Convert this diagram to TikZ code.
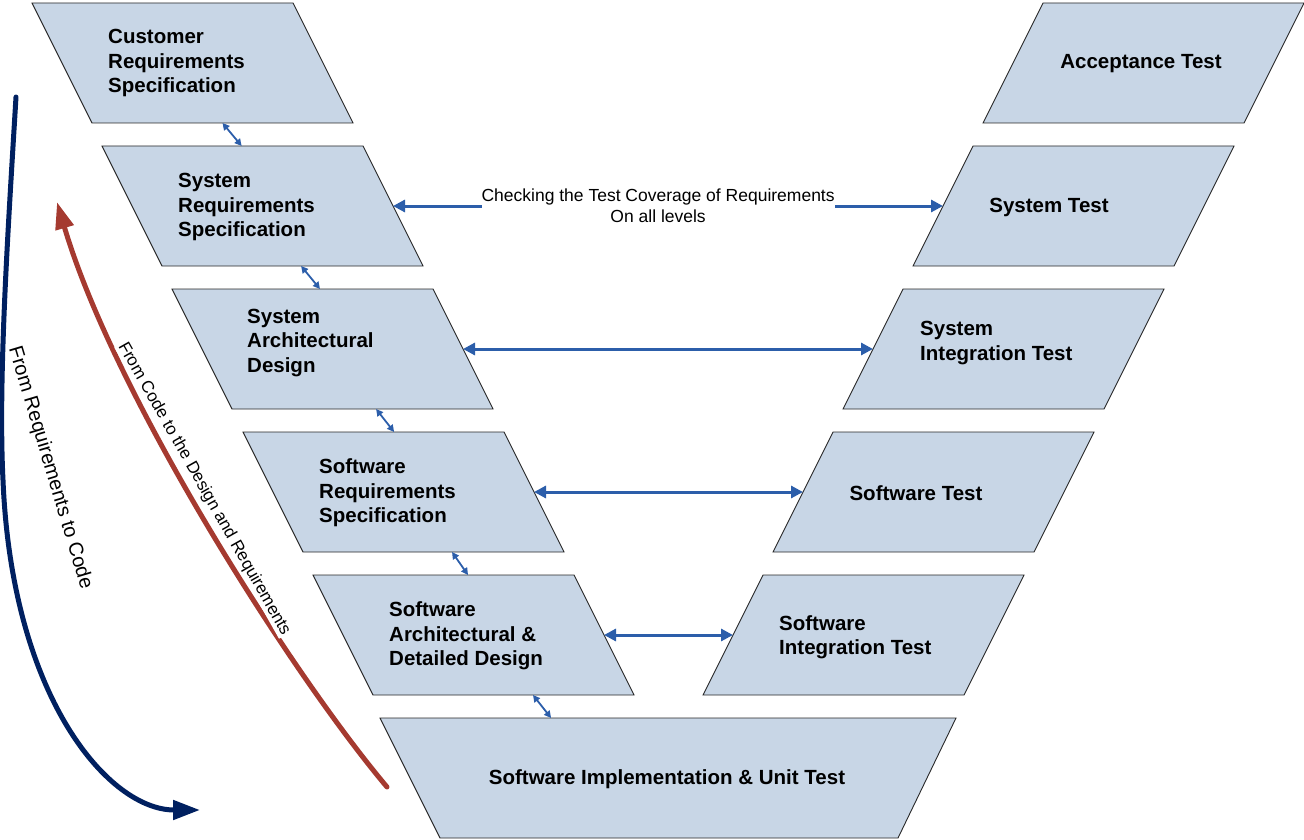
\documentclass[tikz,border=0pt]{standalone}
\usepackage{fontspec}
\setmainfont{Liberation Sans}
\usetikzlibrary{arrows.meta,calc}
\definecolor{boxfill}{RGB}{200,214,230}
\definecolor{boxline}{RGB}{40,40,40}
\definecolor{linkblue}{RGB}{44,94,170}
\definecolor{navyarc}{RGB}{0,32,96}
\definecolor{brick}{RGB}{165,58,48}

\newcommand{\vmshape}[5]{%
  \coordinate (#1-tl) at (#2,#3);
  \coordinate (#1-tr) at (#2+#5,#3);
  \coordinate (#1-bl) at (#2+#4,#3+120);
  \coordinate (#1-br) at (#2+#4+#5,#3+120);
  \coordinate (#1-e) at ($(#1-tr)!0.5!(#1-br)$);
  \coordinate (#1-w) at ($(#1-tl)!0.5!(#1-bl)$);
  \path[vbox] (#1-tl) -- (#1-tr) -- (#1-br) -- (#1-bl) -- cycle;}

\begin{document}
\begin{tikzpicture}[x=1pt,y=-1pt,
  vbox/.style={fill=boxfill,draw=boxline,line width=0.9pt},
  lbl/.style={font=\fontsize{20.5}{24.5}\selectfont\bfseries,align=left,inner sep=0pt,anchor=west,yshift=-2pt},
  clbl/.style={font=\fontsize{20.5}{24.5}\selectfont\bfseries,align=center,inner sep=0pt,yshift=-2.5pt},
  biglink/.style={linkblue,line width=3pt,{Triangle[length=12pt,width=12pt]}-{Triangle[length=12pt,width=12pt]}},
  smalllink/.style={linkblue,line width=1.8pt,{Triangle[length=7pt,width=7pt]}-{Triangle[length=7pt,width=7pt]}},
  flowarc/.style={line width=5pt,line cap=round},
]
\useasboundingbox (0,0) rectangle (1304,840);

% left column
\vmshape{csr}{32}{3}{60}{261}
\vmshape{srs}{102}{146}{60}{261}
\vmshape{sad}{172}{289}{60}{261}
\vmshape{swrs}{243}{432}{60}{261}
\vmshape{swad}{313}{575}{60}{261}
% right column
\vmshape{acc}{1043}{3}{-60}{261}
\vmshape{st}{973}{146}{-60}{261}
\vmshape{sit}{903}{289}{-60}{261}
\vmshape{swt}{833}{432}{-60}{261}
\vmshape{swit}{763}{575}{-60}{261}
% bottom trapezoid
\coordinate (swi-tl) at (380,718);
\coordinate (swi-tr) at (956,718);
\coordinate (swi-br) at (898,838);
\coordinate (swi-bl) at (440,838);
\path[vbox] (swi-tl) -- (swi-tr) -- (swi-br) -- (swi-bl) -- cycle;

% labels
\node[lbl] (t-csr) at (108,61) {Customer\\Requirements\\Specification};
\node[lbl] (t-srs) at (178,205) {System\\Requirements\\Specification};
\node[lbl] (t-sad) at (247,341) {System\\Architectural\\Design};
\node[lbl] (t-swrs) at (319,491) {Software\\Requirements\\Specification};
\node[lbl] (t-swad) at (389,634) {Software\\Architectural \&\\Detailed Design};
\node[clbl] (t-swi) at (667,777) {Software Implementation \& Unit Test};
\node[clbl] (t-acc) at (1141,61) {Acceptance Test};
\node[clbl] (t-st) at (1049,205) {System Test};
\node[lbl] (t-sit) at (920,341) {System\\Integration Test};
\node[clbl] (t-swt) at (916,491) {Software Test};
\node[lbl] (t-swit) at (779,635) {Software\\Integration Test};

% horizontal links
\draw[biglink] (srs-e) -- node[pos=0.482,fill=white,text=black,inner sep=0pt,align=center,font=\fontsize{17.5}{21}\selectfont] (cov) {Checking the Test Coverage of Requirements\\On all levels} (st-w);
\draw[biglink] (sad-e) -- (sit-w);
\draw[biglink] (swrs-e) -- (swt-w);
\draw[biglink] (swad-e) -- (swit-w);

% small vertical links
\draw[smalllink] ($(csr-bl)!0.5!(csr-br)$) -- ($(srs-tl)!0.535!(srs-tr)$);
\draw[smalllink] ($(srs-bl)!0.533!(srs-br)$) -- ($(sad-tl)!0.567!(sad-tr)$);
\draw[smalllink] ($(sad-bl)!0.552!(sad-br)$) -- ($(swrs-tl)!0.579!(swrs-tr)$);
\draw[smalllink] ($(swrs-bl)!0.571!(swrs-br)$) -- ($(swad-tl)!0.594!(swad-tr)$);
\draw[smalllink] ($(swad-bl)!0.613!(swad-br)$) -- ($(swi-tl)!0.297!(swi-tr)$);

% big flow arcs
\coordinate (navy-start) at (16,97);
\coordinate (navy-mid) at (3,480);
\coordinate (navy-end) at (200,810);
\draw[navyarc,flowarc,-{Triangle[length=27pt,width=19pt]}] (navy-start) .. controls (8,230) and (-2,380) .. (navy-mid) .. controls (12,700) and (110,810) .. (navy-end);
\coordinate (brick-start) at (387,787);
\coordinate (brick-end) at (57,202);
\draw[brick,flowarc,-{Triangle[length=27pt,width=18pt]}] (brick-start) .. controls (291,673) and (114,395) .. (brick-end);

\node[font=\fontsize{17}{20}\selectfont,rotate=-60.5,fill=white,inner sep=0.5pt] (redlbl) at (204,489) {From Code to the Design and Requirements};
\node[font=\fontsize{20}{24}\selectfont,rotate=-73.3] (bluelbl) at (50,468) {From Requirements to Code};
\end{tikzpicture}
\end{document}
